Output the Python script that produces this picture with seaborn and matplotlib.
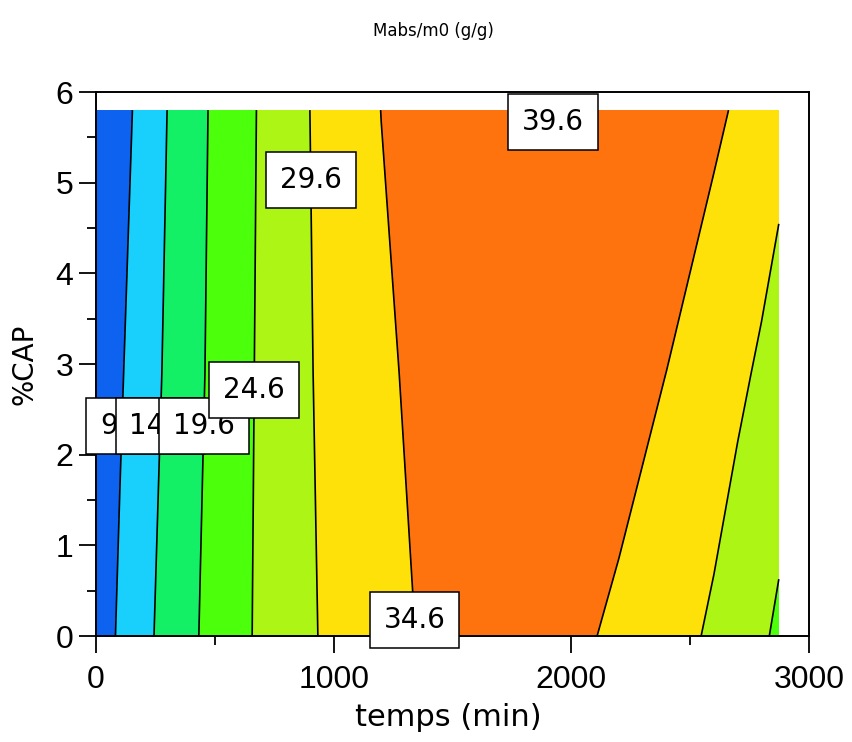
import numpy as np
import matplotlib
matplotlib.use("Agg")
import matplotlib.pyplot as plt
from matplotlib.ticker import MultipleLocator
import seaborn as sns

# Response surface Mabs/m0 sampled over time (min) and %CAP
times = [0, 100, 200, 300, 400, 500, 600, 700, 800, 900, 1000, 1200,
         1400, 1600, 1800, 1900, 2000, 2200, 2400, 2600, 2700, 2800, 2873]
caps = [0.0, 2.9, 5.8]
mabs_cap_0 = [6.8, 10.22, 13.35, 16.19, 18.83, 21.19, 23.43, 25.48, 27.30,
              29.13, 30.53, 33.03, 35.21, 36.22, 36.34, 36.07, 35.57, 33.78,
              31.47, 28.91, 27.08, 25.26, 23.8]
mabs_cap_2_9 = [5.4, 9.08, 12.27, 15.29, 18.07, 20.69, 23.10, 25.37, 27.38,
                29.40, 30.88, 33.72, 36.05, 37.44, 37.99, 37.95, 37.70, 36.56,
                34.58, 31.85, 30.49, 28.92, 27.5]
mabs_cap_5_8 = [4.0, 7.71, 11.26, 14.63, 17.61, 20.40, 22.83, 25.19, 27.40,
                29.6, 31.27, 34.64, 37.03, 38.66, 39.54, 39.69, 39.65, 39.02,
                37.62, 35.46, 34.06, 32.41, 31.2]

# Contour levels and band colours
levels = [0.0, 9.6, 14.6, 19.6, 24.6, 29.6, 34.6, 39.6, 45.0]
band_colors = ["#0d62f0", "#18d0fb", "#14f066", "#4cff0a", "#acf514",
               "#ffe10a", "#ff730f", "#ff2a0a"]

# Where each level's label sits (data coordinates), in drawing order
label_levels = [9.6, 14.6, 19.6, 24.6, 29.6, 34.6, 39.6]
label_spots = [(107, 2.32), (268, 2.32), (450, 2.32), (661, 2.71),
               (903, 5.03), (1340, 0.18), (1931, 5.58)]

sns.set_theme(style="white")
plt.rcParams["font.family"] = ["DejaVu Sans"]

fig = plt.figure(figsize=(8.53, 7.42), dpi=100)
ax = fig.add_axes([96 / 853, 1 - 636 / 742, 713 / 853, 544 / 742])

T, C = np.meshgrid(np.array(times, float), np.array(caps, float))
Z = np.array([mabs_cap_0, mabs_cap_2_9, mabs_cap_5_8], float)

ax.contourf(T, C, Z, levels=levels, colors=band_colors, zorder=1)
cs = ax.contour(T, C, Z, levels=levels[1:-1], colors="black",
                linewidths=1.2, zorder=2)

labels = ax.clabel(cs, levels=label_levels, manual=label_spots, inline=False,
                   fmt="%.1f", fontsize=20, colors="black")
for i, t in enumerate(labels):
    t.set_rotation(0)
    t.set_zorder(12 + i)
    t.set_clip_on(False)
    t.set_fontfamily("DejaVu Sans")
    t.set_bbox(dict(boxstyle="square,pad=0.5", facecolor="white",
                    edgecolor="black", linewidth=1.1))

ax.set_xlim(0, 3000)
ax.set_ylim(0, 6)
ax.xaxis.set_major_locator(MultipleLocator(1000))
ax.xaxis.set_minor_locator(MultipleLocator(500))
ax.yaxis.set_major_locator(MultipleLocator(1))
ax.yaxis.set_minor_locator(MultipleLocator(0.5))

for side in ["left", "right", "top", "bottom"]:
    ax.spines[side].set_visible(True)
    ax.spines[side].set_color("black")
    ax.spines[side].set_linewidth(1.4)
    ax.spines[side].set_zorder(10)

ax.tick_params(which="both", direction="out", color="black", width=1.3,
               top=False, right=False, bottom=True, left=True)
ax.tick_params(which="major", length=12.2, labelsize=23,
               labelfontfamily="Liberation Sans", labelcolor="black")
ax.tick_params(which="minor", length=6.3)
ax.tick_params(axis="x", which="major", pad=8.5)
ax.tick_params(axis="y", which="major", pad=4.3)

ax.set_xlabel("temps (min)", fontsize=22, color="black")
ax.set_ylabel("%CAP", fontsize=20, color="black")
ax.xaxis.set_label_coords(0.494, -0.123)
ax.yaxis.set_label_coords(-0.08, 0.5)

fig.text(433 / 853, 1 - 31 / 742, "Mabs/m0 (g/g)", ha="center", va="center",
         fontsize=12, color="black")

fig.savefig("out.png", dpi=100, facecolor="white")
